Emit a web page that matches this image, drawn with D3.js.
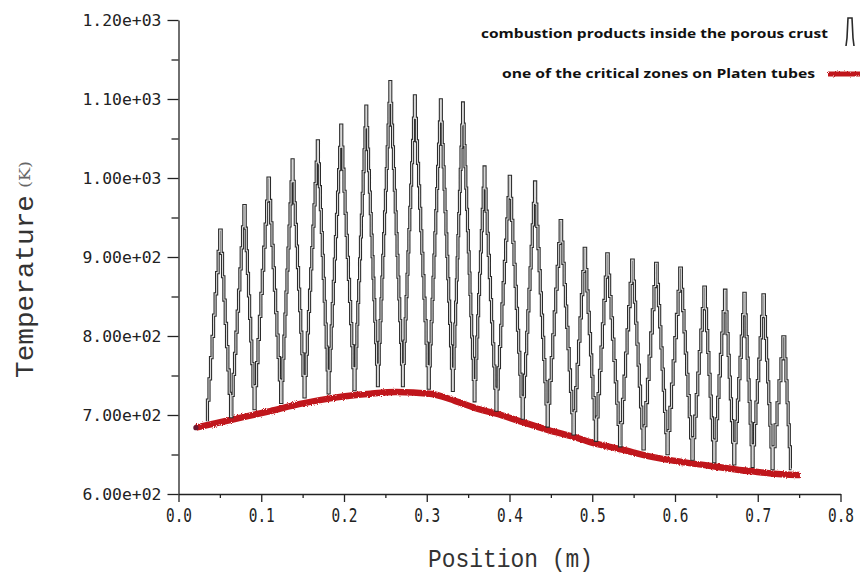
<!DOCTYPE html>
<html>
<head>
<meta charset="utf-8">
<script src="https://cdn.jsdelivr.net/npm/d3@7"></script>
<style>
  body { margin: 0; background: #fff; }
  svg { display: block; }
</style>
</head>
<body>
<svg id="chart" width="860" height="579"></svg>
<script>
// axis ticks
var posTicks = [0, 0.1, 0.2, 0.3, 0.4, 0.5, 0.6, 0.7, 0.8];
var posMinor = [0.05, 0.15, 0.25, 0.35, 0.45, 0.55, 0.65, 0.75];
var tempTicks = [600, 700, 800, 900, 1000, 1100, 1200];
var tempMinor = [650, 750, 850, 950, 1050, 1150];

// combustion products: valleys (v0 .. v25) and peaks (p1 .. p25)
var valleyPos  = [0.035, 0.0645, 0.0926, 0.1249, 0.153, 0.182, 0.2134, 0.2415, 0.2717, 0.3031, 0.3321, 0.3583, 0.3849,
                  0.4167, 0.4469, 0.4783, 0.5053, 0.5347, 0.5628, 0.5918, 0.622, 0.6482, 0.6723, 0.6944, 0.7186, 0.7408];
var valleyTemp = [692, 698, 708, 716, 723, 728, 732, 737, 737, 734, 731, 718, 706,
                  696, 686, 676, 668, 661, 657, 651, 644, 641, 638, 635, 632, 632];
var peakPos  = [0.0516, 0.0806, 0.1099, 0.1385, 0.1691, 0.1973, 0.2275, 0.2565, 0.2862, 0.3176, 0.3442, 0.3704, 0.4012,
                0.4316, 0.463, 0.492, 0.5193, 0.5495, 0.5785, 0.6077, 0.6367, 0.6615, 0.6848, 0.708, 0.7327];
var peakTemp = [934, 965, 1000, 1023, 1047, 1067, 1091, 1122, 1104, 1099, 1095, 1014, 1002,
                995, 946, 911, 904, 896, 892, 886, 862, 858, 854, 852, 799];

// critical zone on Platen tubes
var zonePos  = [0.021, 0.064, 0.111, 0.147, 0.189, 0.232, 0.263, 0.304, 0.334, 0.364, 0.383, 0.413,
                0.447, 0.479, 0.503, 0.533, 0.572, 0.612, 0.65, 0.69, 0.747, 0.751];
var zoneTemp = [684, 694, 705, 714, 722, 727, 729, 727, 718, 707, 702, 692,
                681, 672, 664, 657, 647, 640, 634.5, 629, 624, 624];

var legendLabels = ["combustion products inside the porous crust", "one of the critical zones on Platen tubes"];

var svg = d3.select("#chart");

var x = d3.scaleLinear().domain([0, 0.8]).range([178.5, 840.5]);
var y = d3.scaleLinear().domain([600, 1200]).range([494, 20]);

// staircase rendering of line segments (like the stepped plot of the original)
function stairs(context) {
  var x0, y0, started;
  return {
    areaStart: function() {}, areaEnd: function() {},
    lineStart: function() { started = false; },
    lineEnd: function() {},
    point: function(px, py) {
      if (!started) { context.moveTo(px, py); started = true; }
      else {
        var n = Math.max(1, Math.round(Math.abs(py - y0) / 22));
        for (var i = 1; i <= n; i++) {
          context.lineTo(x0 + (px - x0) * (i - 1) / n, y0 + (py - y0) * i / n);
          context.lineTo(x0 + (px - x0) * i / n, y0 + (py - y0) * i / n);
        }
      }
      x0 = px; y0 = py;
    }
  };
}

// roughen edge of the red band
var defs = svg.append("defs");
var rough = defs.append("filter").attr("id", "rough").attr("filterUnits", "userSpaceOnUse")
  .attr("x", 0).attr("y", 0).attr("width", 860).attr("height", 579);
rough.append("feTurbulence").attr("type", "fractalNoise").attr("baseFrequency", 0.9).attr("numOctaves", 2).attr("result", "n");
rough.append("feDisplacementMap").attr("in", "SourceGraphic").attr("in2", "n").attr("scale", 3);

// axes
var xAxis = svg.append("g").attr("transform", "translate(0,494)")
  .call(d3.axisBottom(x).tickValues(posTicks).tickFormat(d3.format(".1f")).tickSize(8).tickSizeOuter(0).tickPadding(7));
svg.append("g").attr("transform", "translate(0,494)")
  .call(d3.axisBottom(x).tickValues(posMinor).tickFormat("").tickSize(4).tickSizeOuter(0))
  .select(".domain").remove();

var yAxis = svg.append("g").attr("transform", "translate(178.5,0)")
  .call(d3.axisLeft(y).tickValues(tempTicks)
    .tickFormat(function(d) { return d.toExponential(2).replace("e+", "e+0"); })
    .tickSize(11).tickSizeOuter(0).tickPadding(6));
svg.append("g").attr("transform", "translate(178.5,0)")
  .call(d3.axisLeft(y).tickValues(tempMinor).tickFormat("").tickSize(7).tickSizeOuter(0))
  .select(".domain").remove();

svg.selectAll(".domain, .tick line").attr("stroke", "#222").attr("stroke-width", 1.3);
xAxis.selectAll(".tick text")
  .attr("font-family", "DejaVu Sans Mono").attr("font-size", 19).attr("fill", "#222")
  .attr("textLength", 26).attr("lengthAdjust", "spacingAndGlyphs");
yAxis.selectAll(".tick text")
  .attr("font-family", "DejaVu Sans Mono").attr("font-size", 16.5).attr("fill", "#222")
  .attr("textLength", 79).attr("lengthAdjust", "spacingAndGlyphs");

// axis titles
svg.append("text")
  .attr("x", 428).attr("y", 567)
  .attr("font-family", "Liberation Mono").attr("font-size", 25).attr("fill", "#333")
  .attr("textLength", 165).attr("lengthAdjust", "spacingAndGlyphs")
  .text("Position (m)");

var yTitle = svg.append("g").attr("transform", "translate(33,378) rotate(-90)");
yTitle.append("text")
  .attr("x", 0).attr("y", 0)
  .attr("font-family", "Liberation Mono").attr("font-size", 26).attr("fill", "#333")
  .attr("textLength", 183).attr("lengthAdjust", "spacingAndGlyphs")
  .text("Temperature");
yTitle.append("text")
  .attr("x", 190).attr("y", -3)
  .attr("font-family", "DejaVu Serif").attr("font-size", 14).attr("fill", "#666")
  .attr("textLength", 27).attr("lengthAdjust", "spacingAndGlyphs")
  .text("(K)");

// red band
var zone = zonePos.map(function(p, i) { return [p, zoneTemp[i]]; });
svg.append("path")
  .datum(zone)
  .attr("fill", "none")
  .attr("stroke", "#c0161b")
  .attr("stroke-width", 6.5)
  .attr("stroke-linejoin", "round")
  .attr("filter", "url(#rough)")
  .attr("d", d3.line().x(function(d) { return x(d[0]); }).y(function(d) { return y(d[1]); }).curve(d3.curveMonotoneX));
svg.append("circle")
  .attr("cx", x(zonePos[0])).attr("cy", y(zoneTemp[0])).attr("r", 2.6)
  .attr("fill", "#6b1730");

// black spikes
var spikes = [];
valleyPos.forEach(function(p, i) {
  spikes.push([p, valleyTemp[i]]);
  if (i < peakPos.length) spikes.push([peakPos[i], peakTemp[i]]);
});
var spikeLine = d3.line().x(function(d) { return x(d[0]); }).y(function(d) { return y(d[1]); }).curve(stairs);
svg.append("path")
  .datum(spikes)
  .attr("fill", "none")
  .attr("stroke", "#2b2b2b")
  .attr("stroke-width", 3.2)
  .attr("d", spikeLine);
svg.append("path")
  .datum(spikes)
  .attr("fill", "none")
  .attr("stroke", "#d8d8d8")
  .attr("stroke-width", 1.1)
  .attr("d", spikeLine);

// legend
var legend = svg.append("g");
legend.append("text")
  .attr("x", 481).attr("y", 38)
  .attr("font-family", "Open Sans").attr("font-weight", 700).attr("font-size", 13).attr("fill", "#111")
  .attr("textLength", 347).attr("lengthAdjust", "spacingAndGlyphs")
  .text(legendLabels[0]);
legend.append("text")
  .attr("x", 502).attr("y", 78)
  .attr("font-family", "Open Sans").attr("font-weight", 700).attr("font-size", 13).attr("fill", "#111")
  .attr("textLength", 313).attr("lengthAdjust", "spacingAndGlyphs")
  .text(legendLabels[1]);
legend.append("path")
  .attr("d", "M846,46 L847,38 L848,18 L852,18 L853,38 L854,46")
  .attr("fill", "none").attr("stroke", "#2b2b2b").attr("stroke-width", 1.6);
legend.append("line")
  .attr("x1", 828).attr("x2", 860).attr("y1", 74).attr("y2", 74)
  .attr("stroke", "#c0161b").attr("stroke-width", 5).attr("filter", "url(#rough)");
</script>
</body>
</html>
